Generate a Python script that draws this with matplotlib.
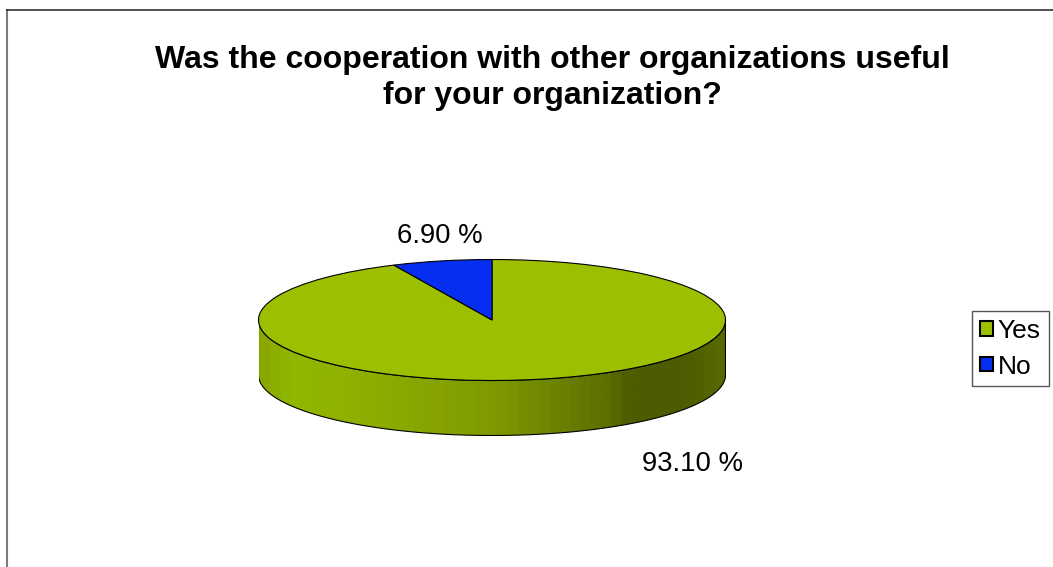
import matplotlib
matplotlib.use('Agg')
import matplotlib.pyplot as plt
import numpy as np
from matplotlib.colors import LinearSegmentedColormap
from matplotlib.lines import Line2D
from matplotlib.patches import Patch, Polygon

W, H = 1053, 567

title = 'Was the cooperation with other organizations useful\nfor your organization?'
categories = ['Yes', 'No']
shares = [93.10, 6.90]
colors = ['#9cc000', '#052ef0']
share_labels = ['93.10 %', '6.90 %']

# shading of the pie's rim, left to right
rim_stops = [0, 0.06, 0.2, 0.5, 0.75, 0.8, 0.92, 1]
rim_colors = ['#8aa800', '#8fb800', '#8fb000', '#7f9a00', '#5c7000', '#4d5c00', '#4d5c00', '#566800']

plt.rcParams['font.family'] = ['Liberation Sans', 'DejaVu Sans']

fig = plt.figure(figsize=(W / 100, H / 100), dpi=100, facecolor='white')

# pie axes, ellipse is 467 x 121 px and the rim 55 px deep
left, right, top, bottom = 258.5, 725.5, 259.5, 435.5
ax = fig.add_axes([left / W, 1 - bottom / H, (right - left) / W, (bottom - top) / H])
depth = 55 / 60.5

t = np.linspace(np.pi, 2 * np.pi, 200)
xs = np.cos(t)
ys = np.sin(t)
outline = np.r_[np.c_[xs, ys - depth], np.c_[xs[::-1], ys[::-1]]]

rim_cmap = LinearSegmentedColormap.from_list('rim', list(zip(rim_stops, rim_colors)), N=45)
img = ax.imshow(np.linspace(0, 1, 300)[None, :], extent=[-1, 1, -1 - depth, 1], aspect='auto', cmap=rim_cmap)
rim = Polygon(outline, closed=True, facecolor='none', edgecolor='black', lw=0.8, zorder=3)
ax.add_patch(rim)
img.set_clip_path(rim)

wedges, _ = ax.pie(shares, colors=colors, startangle=90, counterclock=False, radius=1, center=(0, 0),
                   frame=True, wedgeprops={'edgecolor': 'black', 'linewidth': 0.8, 'zorder': 4})
ax.set_aspect('auto')
ax.set_xlim(-1, 1)
ax.set_ylim(-1 - depth, 1)
ax.axis('off')

fig.text(552 / W, 1 - 78 / H, title, ha='center', va='center', fontsize=23, fontweight='bold', linespacing=1.3)
fig.text(692.5 / W, 1 - 464 / H, share_labels[0], ha='center', va='center', fontsize=19.8)
fig.text(440 / W, 1 - 236 / H, share_labels[1], ha='center', va='center', fontsize=19.8)

handles = [Patch(facecolor=c, edgecolor='black', linewidth=1.5) for c in colors]
fig.legend(handles, categories, loc='upper left', bbox_to_anchor=(972 / W, 1 - 311 / H), fontsize=19,
           frameon=True, fancybox=False, framealpha=1, edgecolor='#555555', borderpad=0.3,
           handlelength=0.48, handleheight=0.48, handletextpad=0.2, labelspacing=0.44, borderaxespad=0)

# chart frame, only the top and left sides are in the picture
fig.add_artist(Line2D([6.5 / W, 6.5 / W], [0, 1 - 9 / H], color='#7a7a7a', lw=1.5, solid_capstyle='butt'))
fig.add_artist(Line2D([6 / W, 1], [1 - 9.5 / H, 1 - 9.5 / H], color='#333333', lw=1.2, solid_capstyle='butt'))

fig.savefig('out.png', dpi=100)
